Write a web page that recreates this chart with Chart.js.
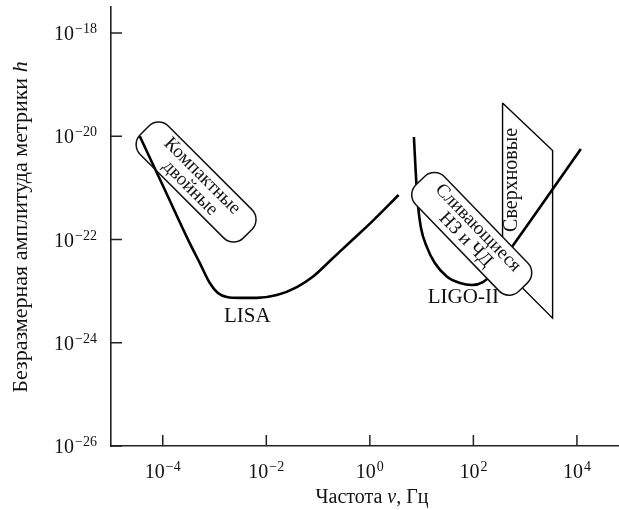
<!DOCTYPE html>
<html>
<head>
<meta charset="utf-8">
<script src="https://cdn.jsdelivr.net/npm/chart.js@4.4.1/dist/chart.umd.min.js"></script>
<style>
  body { margin: 0; background: #fff; }
  .wrap { width: 619px; height: 510px; }
</style>
</head>
<body>
<div class="wrap"><canvas id="gw"></canvas></div>
<script>
// LISA sensitivity curve (frequency in Hz, amplitude h)
const lisaFreq = [3.6e-5, 1.1e-4, 3.3e-4, 5.2e-4, 8.1e-4, 1.16e-3, 1.73e-3, 3.1e-3, 6.5e-3, 0.016, 0.039, 0.079, 0.19, 0.47, 1.14, 3.6]
const lisaAmp = [1.0e-20, 9.1e-22, 8.6e-23, 3.5e-23, 1.44e-23, 9.2e-24, 7.7e-24, 7.4e-24, 7.4e-24, 8.4e-24, 1.2e-23, 1.9e-23, 4.3e-23, 1.0e-22, 2.3e-22, 7.3e-22]

// LIGO-II sensitivity curve
const ligoFreq = [7.1, 7.7, 8.5, 9.7, 12.6, 18, 31, 55, 94, 153, 249, 388, 555, 11900]
const ligoAmp = [9.7e-21, 2.0e-21, 4.7e-22, 1.7e-22, 7.2e-23, 3.5e-23, 1.9e-23, 1.44e-23, 1.32e-23, 1.5e-23, 2.35e-23, 4.4e-23, 7.2e-23, 5.7e-21]

// supernovae region (closed outline)
const snFreq = [366, 3390, 3390, 366, 366]
const snAmp = [4.4e-20, 5.3e-21, 3.0e-24, 2.8e-23, 4.4e-20]

const xTicks = [1e-4, 1e-2, 1, 1e2, 1e4]
const yTicks = [1e-26, 1e-24, 1e-22, 1e-20, 1e-18]

const serif = '"Liberation Serif", "Times New Roman", serif'
const toPoints = (xs, ys) => xs.map((x, i) => ({x: x, y: ys[i]}))

function expText(v) {
  const e = Math.round(Math.log10(v))
  return e < 0 ? '\u2212' + (-e) : String(e)
}

function drawPow(ctx, v, x, y, align) {
  ctx.font = '20px ' + serif
  const w1 = ctx.measureText('10').width
  ctx.font = '14px ' + serif
  const ex = expText(v)
  const w2 = ctx.measureText(ex).width
  const total = w1 + w2 + 1
  const sx = align === 'center' ? x - total / 2 : x - total
  ctx.textAlign = 'left'
  ctx.textBaseline = 'alphabetic'
  ctx.font = '20px ' + serif
  ctx.fillText('10', sx, y)
  ctx.font = '14px ' + serif
  ctx.fillText(ex, sx + w1 + 1, y - 7)
}

// mixed upright / italic text, centred on (0,0) of current transform
function drawMixed(ctx, parts, size) {
  let total = 0
  parts.forEach(p => {
    ctx.font = (p.it ? 'italic ' : '') + size + 'px ' + serif
    p.w = ctx.measureText(p.t).width
    total += p.w
  })
  let x = -total / 2
  ctx.textAlign = 'left'
  parts.forEach(p => {
    ctx.font = (p.it ? 'italic ' : '') + size + 'px ' + serif
    ctx.fillText(p.t, x, 0)
    x += p.w
  })
}

function roundBox(ctx, cx, cy, len, wid, ang, lines, fill) {
  const r = 14
  ctx.save()
  ctx.translate(cx, cy)
  ctx.rotate(ang * Math.PI / 180)
  ctx.beginPath()
  ctx.roundRect(-len / 2, -wid / 2, len, wid, r)
  if (fill) { ctx.fillStyle = '#fff'; ctx.fill() }
  ctx.lineWidth = 1.5
  ctx.strokeStyle = '#111'
  ctx.stroke()
  ctx.fillStyle = '#111'
  ctx.font = '19px ' + serif
  ctx.textAlign = 'center'
  ctx.textBaseline = 'middle'
  const lh = 17
  lines.forEach((t, i) => {
    ctx.fillText(t, 0, (i - (lines.length - 1) / 2) * lh)
  })
  ctx.restore()
}

const decor = {
  id: 'decor',
  afterDatasetsDraw(chart) {
    const ctx = chart.ctx, xs = chart.scales.x, ys = chart.scales.y
    const px = v => xs.getPixelForValue(v), py = v => ys.getPixelForValue(v)
    roundBox(ctx, px(4.4e-4), py(1.3e-21), 146, 40, 45, ['Компактные', 'двойные'], false)
    roundBox(ctx, px(93), py(1.29e-22), 148, 40, 46, ['Сливающиеся', 'НЗ и ЧД'], true)

    ctx.save()
    ctx.fillStyle = '#111'
    ctx.font = '21px ' + serif
    ctx.textAlign = 'center'
    ctx.textBaseline = 'middle'
    ctx.fillText('LISA', px(4.3e-3), py(3.3e-24))
    ctx.fillText('LIGO-II', px(64), py(7.7e-24))
    ctx.font = '20px ' + serif
    ctx.translate(px(555), py(1.43e-21))
    ctx.rotate(-Math.PI / 2)
    ctx.fillText('Сверхновые', 0, 0)
    ctx.restore()
  },
  afterDraw(chart) {
    const ctx = chart.ctx, xs = chart.scales.x, ys = chart.scales.y
    const a = chart.chartArea
    ctx.save()
    ctx.strokeStyle = '#222'
    ctx.lineWidth = 1.5
    ctx.beginPath()
    xTicks.forEach(v => {
      const p = xs.getPixelForValue(v)
      ctx.moveTo(p, a.bottom); ctx.lineTo(p, a.bottom - 11)
    })
    yTicks.forEach(v => {
      const p = ys.getPixelForValue(v)
      ctx.moveTo(a.left, p); ctx.lineTo(a.left + 11, p)
    })
    ctx.stroke()

    ctx.fillStyle = '#111'
    xTicks.forEach(v => drawPow(ctx, v, xs.getPixelForValue(v), a.bottom + 32, 'center'))
    yTicks.forEach(v => drawPow(ctx, v, a.left - 14, ys.getPixelForValue(v) + 7, 'right'))

    // axis titles
    ctx.save()
    ctx.textBaseline = 'alphabetic'
    ctx.translate(372, a.bottom + 57)
    drawMixed(ctx, [{t: 'Частота '}, {t: 'ν', it: true}, {t: ', Гц'}], 20)
    ctx.restore()

    ctx.save()
    ctx.textBaseline = 'middle'
    ctx.translate(21, 227)
    ctx.rotate(-Math.PI / 2)
    drawMixed(ctx, [{t: 'Безразмерная амплитуда метрики '}, {t: 'h', it: true}], 22)
    ctx.restore()
    ctx.restore()
  }
}

const ctx = document.getElementById('gw')
const myChart = new Chart(ctx, {
  type: 'line',
  data: {
    datasets: [
      {
        label: 'LISA',
        data: toPoints(lisaFreq, lisaAmp),
        borderColor: '#000',
        borderWidth: 2.6,
        pointRadius: 0,
        cubicInterpolationMode: 'monotone'
      },
      {
        label: 'LIGO-II',
        data: toPoints(ligoFreq, ligoAmp),
        borderColor: '#000',
        borderWidth: 2.6,
        pointRadius: 0,
        cubicInterpolationMode: 'monotone'
      },
      {
        label: 'Сверхновые',
        data: toPoints(snFreq, snAmp),
        borderColor: '#000',
        borderWidth: 1.4,
        pointRadius: 0,
        tension: 0
      }
    ]
  },
  options: {
    responsive: true,
    maintainAspectRatio: false,
    animation: false,
    layout: { padding: { left: 111, right: 0, top: 7, bottom: 64 } },
    plugins: { legend: { display: false }, tooltip: { enabled: false } },
    scales: {
      x: {
        type: 'logarithmic',
        min: 1e-5,
        max: 6.5e4,
        ticks: { display: false },
        grid: { display: false, drawTicks: false },
        border: { display: true, color: '#222', width: 1.6 }
      },
      y: {
        type: 'logarithmic',
        min: 1e-26,
        max: 3.2e-18,
        ticks: { display: false },
        grid: { display: false, drawTicks: false },
        border: { display: true, color: '#222', width: 1.6 }
      }
    }
  },
  plugins: [decor]
})
</script>
</body>
</html>
